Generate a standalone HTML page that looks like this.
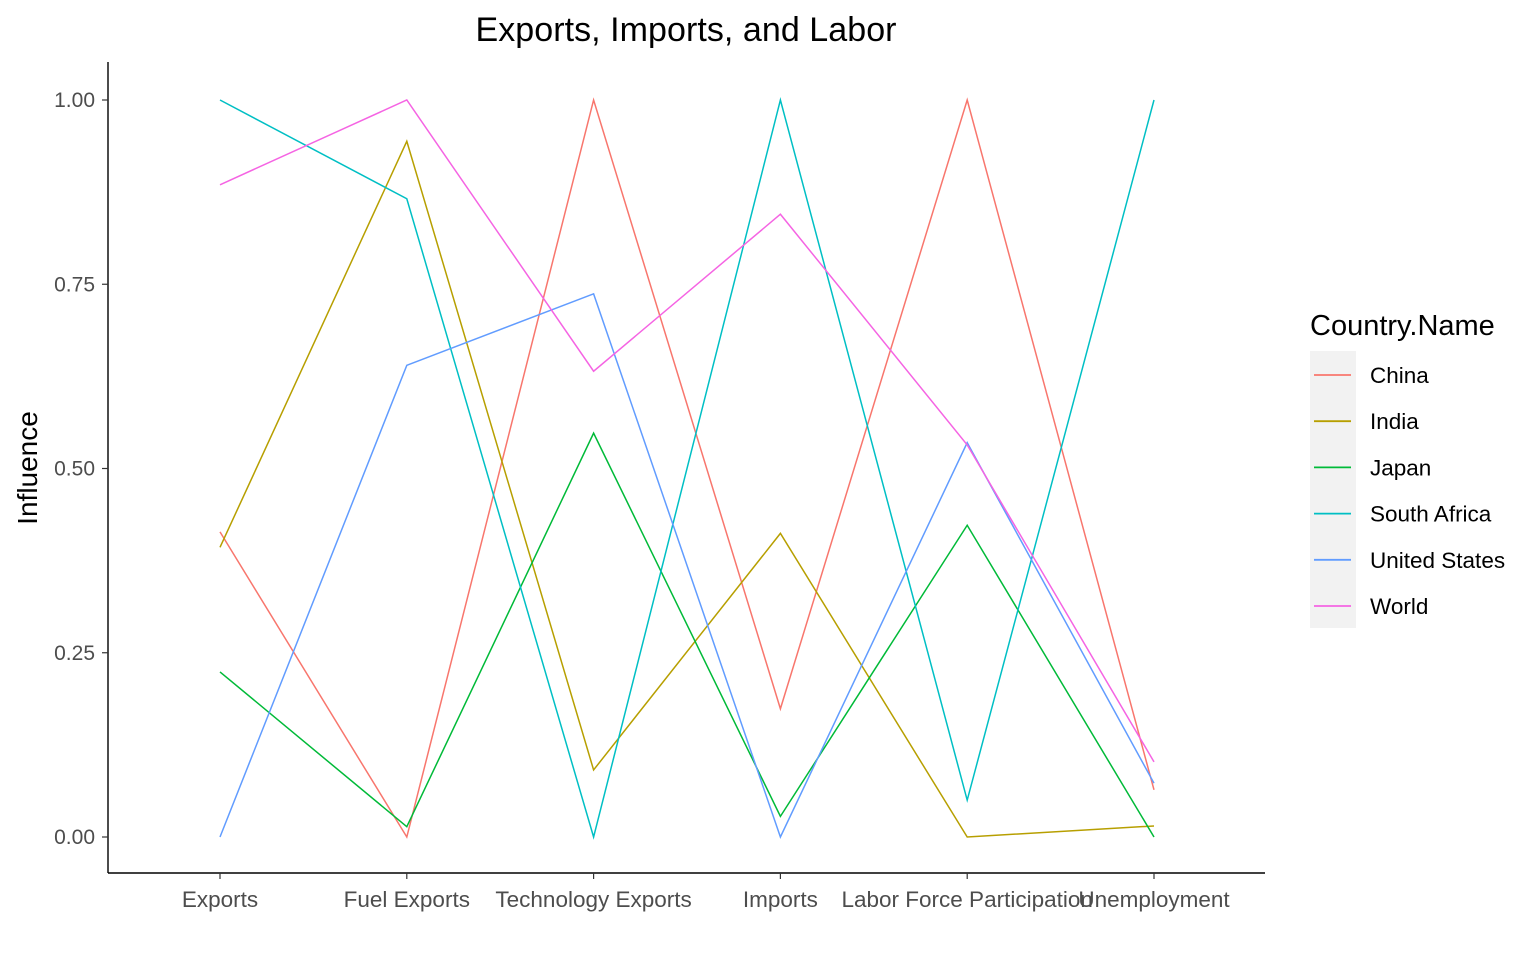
<!DOCTYPE html>
<html><head><meta charset="utf-8"><style>
body{margin:0;background:#fff;}
svg{display:block;font-family:"Liberation Sans",Arial,sans-serif;}
</style></head><body>
<svg id="chart" width="1536" height="960" viewBox="0 0 1536 960">
<rect width="1536" height="960" fill="#fff"/>
<text x="686" y="41" font-size="34" text-anchor="middle" fill="#000" textLength="421">Exports, Imports, and Labor</text>
<text transform="translate(37,468) rotate(-90)" font-size="28" text-anchor="middle" fill="#000">Influence</text>
<g id="axes"></g>
<g id="series"></g>
<g id="legend">
<text x="1310" y="335" font-size="29" fill="#000">Country.Name</text>
<rect x="1310" y="351" width="46" height="277" fill="#F2F2F2"/>
</g>
</svg>
<script>
const categories=["Exports","Fuel Exports","Technology Exports","Imports","Labor Force Participation","Unemployment"];
const seriesNames=["China","India","Japan","South Africa","United States","World"];
const colors=["#F8766D","#B79F00","#00BA38","#00BFC4","#619CFF","#F564E3"];
const china=[0.414,0,1,0.174,1,0.064];
const india=[0.393,0.944,0.091,0.412,0,0.015];
const japan=[0.224,0.014,0.548,0.028,0.423,0];
const southAfrica=[1,0.866,0,1,0.05,1];
const unitedStates=[0,0.640,0.737,0,0.535,0.073];
const world=[0.885,1,0.632,0.845,0.532,0.102];
const yTicks=[0,0.25,0.5,0.75,1];
const yTickLabels=["0.00","0.25","0.50","0.75","1.00"];
const allSeries=[china,india,japan,southAfrica,unitedStates,world];

const NS="http://www.w3.org/2000/svg";
const x=i=>220+i*186.8;
const y=v=>837-v*737;
function mk(t,a,p){const e=document.createElementNS(NS,t);for(const k in a)e.setAttribute(k,a[k]);p.appendChild(e);return e;}
const axes=document.getElementById('axes');
const sg=document.getElementById('series');
const lg=document.getElementById('legend');
let e=mk('line',{x1:108,y1:62,x2:108,y2:873,stroke:'#000','stroke-width':1.4},axes);


e=mk('line',{x1:108,y1:873,x2:1265,y2:873,stroke:'#000','stroke-width':1.4},axes);


yTicks.forEach((v,i)=>{
  e=mk('line',{x1:102,y1:y(v),x2:108,y2:y(v),stroke:'#333','stroke-width':1.2},axes);
  
  
  e=mk('text',{x:95,y:y(v)+7,'font-size':21,'text-anchor':'end',fill:'#4D4D4D'},axes);
  e.textContent=yTickLabels[i];
  
  
});
categories.forEach((c,i)=>{
  e=mk('line',{x1:x(i),y1:873,x2:x(i),y2:879,stroke:'#333','stroke-width':1.2},axes);
  
  
  e=mk('text',{x:x(i),y:907,'font-size':22.5,'text-anchor':'middle',fill:'#4D4D4D'},axes);
  e.textContent=c;
  
  
});
allSeries.forEach((s,k)=>{
  const pts=s.map((v,i)=>x(i)+','+y(v)).join(' ');
  e=mk('polyline',{points:pts,fill:'none',stroke:colors[k],'stroke-width':1.5},sg);
  
  
  const ly=375+k*46.2;
  e=mk('line',{x1:1314,y1:ly,x2:1351,y2:ly,stroke:colors[k],'stroke-width':1.8},lg);
  
  
  e=mk('text',{x:1370,y:ly+8,'font-size':22.5,fill:'#000'},lg);
  e.textContent=seriesNames[k];
  
  
});
</script>
</body></html>
